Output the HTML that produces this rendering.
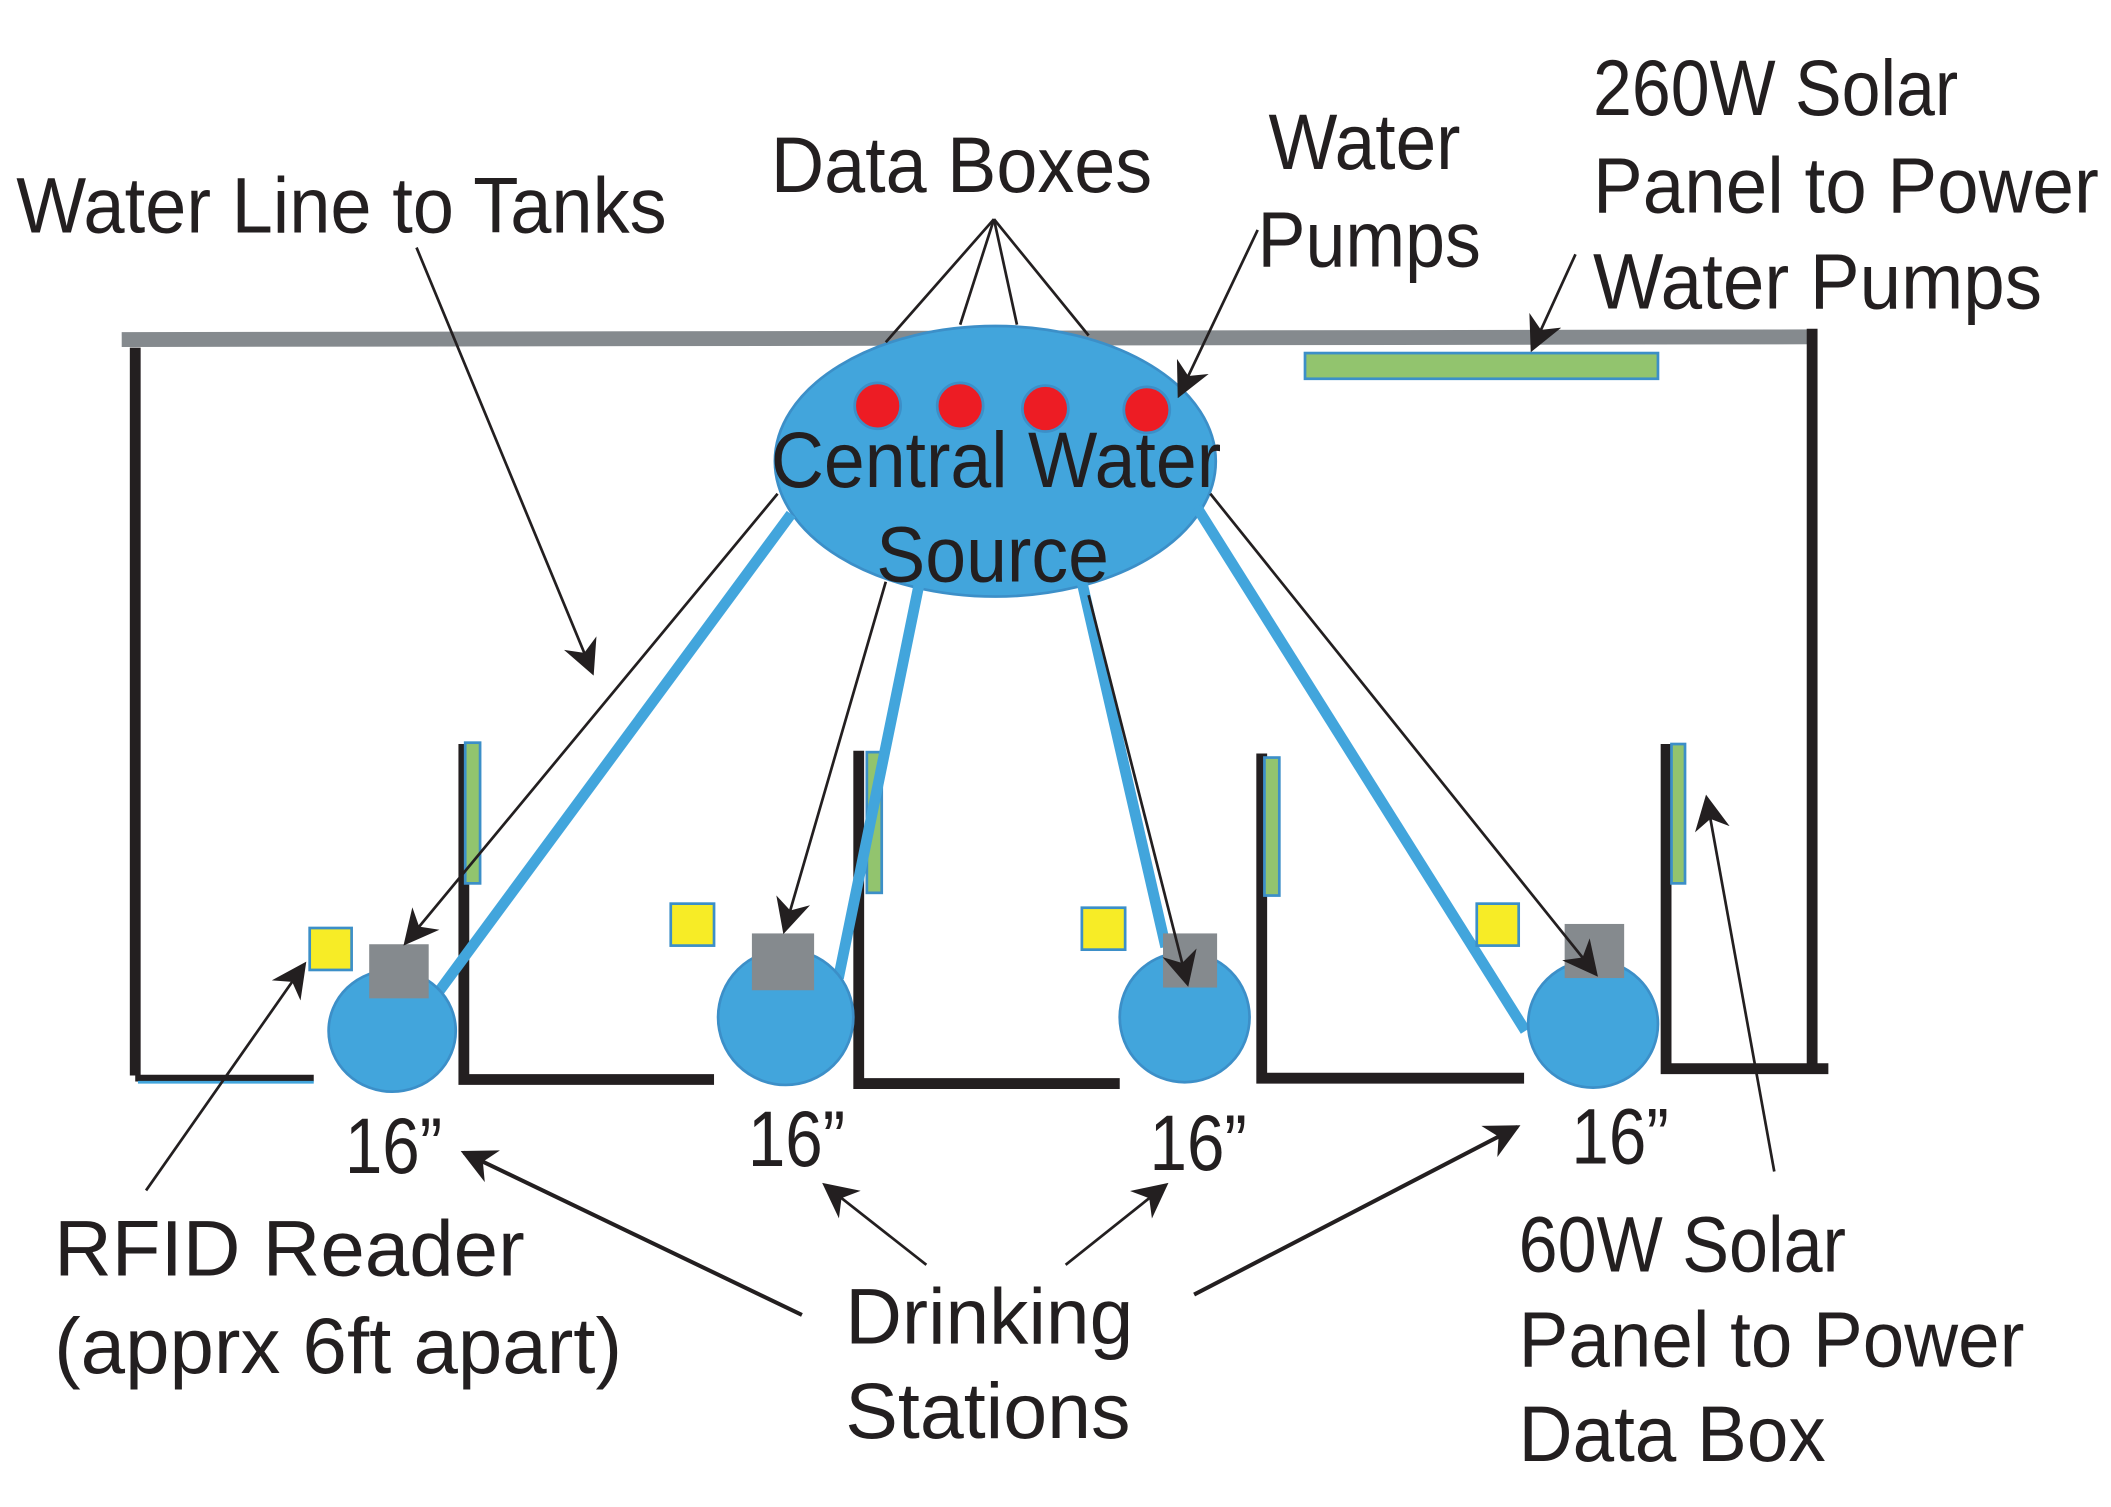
<!DOCTYPE html>
<html><head><meta charset="utf-8"><style>html,body{margin:0;padding:0;background:#fff}svg{display:block}</style></head>
<body>
<svg width="2111" height="1507" viewBox="0 0 1561 1114" preserveAspectRatio="none" xmlns="http://www.w3.org/2000/svg" font-family="'Liberation Sans', Arial, sans-serif" fill="#231f20">
<defs>
<marker id="ah" viewBox="0 0 10 10" refX="9" refY="5" markerWidth="9" markerHeight="9" markerUnits="userSpaceOnUse" orient="auto"><path d="M0,0 L10,5 L0,10 L3,5 z" fill="#231f20"/></marker>
<marker id="ahb" viewBox="0 0 10 10" refX="9" refY="5" markerWidth="26" markerHeight="26" markerUnits="userSpaceOnUse" orient="auto"><path d="M0,0 L10,5 L0,10 L3,5 z" fill="#231f20"/></marker>
</defs>
<!-- top gray bar -->
<path d="M90,251 L1340,249" stroke="#858a8e" stroke-width="11"/>
<rect x="965" y="261" width="261" height="19" fill="#92c46e" stroke="#3c8fc8" stroke-width="2"/>
<!-- walls -->
<g stroke="#231f20" stroke-width="8" fill="none">
<path d="M100,257 L100,795"/>
<path d="M1340,243 L1340,792"/>
<path d="M1232,550 L1232,790 L1352,790"/>
<path d="M343,550 L343,798 L528,798"/>
<path d="M635,555 L635,801 L828,801"/>
<path d="M933,557 L933,797 L1127,797"/>
</g>
<path d="M100,797 L232,797" stroke="#231f20" stroke-width="5"/>
<path d="M102,800 L232,800" stroke="#42a5dc" stroke-width="2"/>
<!-- green booth panels -->
<g fill="#92c46e" stroke="#3c8fc8" stroke-width="2">
<rect x="344" y="549" width="11" height="104"/>
<rect x="641" y="556" width="11" height="104"/>
<rect x="935" y="560" width="11" height="102"/>
<rect x="1236" y="550" width="10" height="103"/>
</g>
<!-- ellipse -->
<ellipse cx="736" cy="341" rx="163" ry="100" fill="#42a5dc" stroke="#3c8fc8" stroke-width="2"/>
<g fill="#ed1c24" stroke="#3c8fc8" stroke-width="2">
<circle cx="649" cy="300" r="17"/><circle cx="710" cy="300" r="17"/><circle cx="773" cy="302" r="17"/><circle cx="848" cy="303" r="17"/>
</g>
<!-- blue pipes -->
<g stroke="#42a5dc" stroke-width="8" stroke-linecap="butt">
<path d="M585,380 L323,735"/>
<path d="M680,430 L620,723"/>
<path d="M800,430 L862,700"/>
<path d="M885,375 L1128,762"/>
</g>
<!-- bowls -->
<g fill="#42a5dc" stroke="#3c8fc8" stroke-width="2">
<ellipse cx="290" cy="762" rx="47" ry="45"/>
<ellipse cx="581" cy="752" rx="50" ry="50"/>
<ellipse cx="876" cy="752" rx="48" ry="48"/>
<ellipse cx="1178" cy="757" rx="48" ry="47"/>
</g>
<g fill="#858a8e">
<rect x="273" y="698" width="44" height="40"/>
<rect x="556" y="690" width="46" height="42"/>
<rect x="860" y="690" width="40" height="40"/>
<rect x="1157" y="683" width="44" height="40"/>
</g>
<g fill="#f7ec26" stroke="#3c8fc8" stroke-width="2">
<rect x="229" y="686" width="31" height="31"/>
<rect x="496" y="668" width="32" height="31"/>
<rect x="800" y="671" width="32" height="31"/>
<rect x="1092" y="668" width="31" height="31"/>
</g>
<!-- thin arrows -->
<g stroke="#231f20" stroke-width="2" fill="none" marker-end="url(#ahb)">
<path d="M575,365 L300,697"/>
<path d="M655,430 L580,688"/>
<path d="M805,440 L878,727"/>
<path d="M895,365 L1180,720"/>
<path d="M930,170 L872,292"/>
<path d="M1165,188 L1133,258"/>
<path d="M308,183 L438,497"/>
<path d="M108,880 L225,713"/>
<path d="M1312,866 L1262,590"/>
<path d="M593,972 L343,852" stroke-width="3"/>
<path d="M685,935 L610,876"/>
<path d="M788,935 L862,876"/>
<path d="M883,957 L1122,833" stroke-width="3"/>
</g>
<g stroke="#231f20" stroke-width="2">
<path d="M735,162 L655,253"/><path d="M735,162 L710,240"/><path d="M735,162 L752,240"/><path d="M735,162 L805,248"/>
</g>
<!-- text -->
<g font-size="58" lengthAdjust="spacingAndGlyphs">
<text x="12" y="172" textLength="481" lengthAdjust="spacingAndGlyphs">Water Line to Tanks</text>
<text x="570" y="142" textLength="282" lengthAdjust="spacingAndGlyphs">Data Boxes</text>
<text x="938" y="125" textLength="142" lengthAdjust="spacingAndGlyphs">Water</text>
<text x="930" y="197" textLength="165" lengthAdjust="spacingAndGlyphs">Pumps</text>
<text x="1178" y="85" textLength="270" lengthAdjust="spacingAndGlyphs">260W Solar</text>
<text x="1178" y="157" textLength="374" lengthAdjust="spacingAndGlyphs">Panel to Power</text>
<text x="1178" y="228" textLength="332" lengthAdjust="spacingAndGlyphs">Water Pumps</text>
<text x="570" y="360" textLength="333" lengthAdjust="spacingAndGlyphs">Central Water</text>
<text x="648" y="430" textLength="172" lengthAdjust="spacingAndGlyphs">Source</text>
<text x="255" y="867" textLength="72" lengthAdjust="spacingAndGlyphs">16”</text>
<text x="553" y="862" textLength="72" lengthAdjust="spacingAndGlyphs">16”</text>
<text x="850" y="865" textLength="72" lengthAdjust="spacingAndGlyphs">16”</text>
<text x="1162" y="860" textLength="72" lengthAdjust="spacingAndGlyphs">16”</text>
<text x="40" y="943" textLength="348" lengthAdjust="spacingAndGlyphs">RFID Reader</text>
<text x="40" y="1015" textLength="420" lengthAdjust="spacingAndGlyphs">(apprx 6ft apart)</text>
<text x="625" y="993" textLength="213" lengthAdjust="spacingAndGlyphs">Drinking</text>
<text x="625" y="1063" textLength="211" lengthAdjust="spacingAndGlyphs">Stations</text>
<text x="1123" y="940" textLength="242" lengthAdjust="spacingAndGlyphs">60W Solar</text>
<text x="1123" y="1010" textLength="374" lengthAdjust="spacingAndGlyphs">Panel to Power</text>
<text x="1123" y="1080" textLength="227" lengthAdjust="spacingAndGlyphs">Data Box</text>
</g>
</svg>
</body></html>
